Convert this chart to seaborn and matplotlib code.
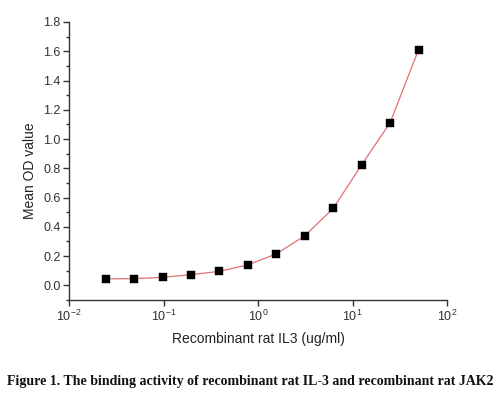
import matplotlib
matplotlib.use("Agg")
import matplotlib.pyplot as plt
import seaborn as sns
import pandas as pd
from matplotlib.ticker import LogLocator, MultipleLocator, NullLocator

concentration = [0.0244, 0.0488, 0.0977, 0.195, 0.39, 0.78, 1.5625, 3.125, 6.25, 12.5, 25, 50]
mean_od = [0.044, 0.046, 0.055, 0.073, 0.096, 0.140, 0.215, 0.339, 0.526, 0.824, 1.112, 1.611]

y_ticks = [0.0, 0.2, 0.4, 0.6, 0.8, 1.0, 1.2, 1.4, 1.6, 1.8]
x_label = "Recombinant rat IL3 (ug/ml)"
y_label = "Mean OD value"
caption = "Figure 1. The binding activity of recombinant rat IL-3 and recombinant rat JAK2"

df = pd.DataFrame({"conc": concentration, "od": mean_od})

sns.set_style("ticks")
plt.rcParams['font.family'] = ['Liberation Sans', 'DejaVu Sans']

fig = plt.figure(figsize=(5.0, 3.97), dpi=100)
ax = fig.add_axes([0.138, 0.2443, 0.756, 0.7003])

sns.lineplot(data=df, x="conc", y="od", ax=ax, color="#e07272", linewidth=0.9)
sns.scatterplot(data=df, x="conc", y="od", ax=ax, marker="s", color="black",
                s=26, edgecolor="black", linewidth=0.3, zorder=5)

ax.set_xscale("log")
ax.set_xlim(1e-2, 1e2)
ax.set_ylim(-0.1, 1.8)
ax.xaxis.set_major_locator(LogLocator(base=10, numticks=10))
ax.xaxis.set_minor_locator(NullLocator())
ax.yaxis.set_minor_locator(MultipleLocator(0.1))
ax.set_yticks(y_ticks)
ax.set_yticklabels([f"{v:.1f}" for v in y_ticks])

for side in ["top", "right"]:
    ax.spines[side].set_visible(False)
for side in ["left", "bottom"]:
    ax.spines[side].set_color("#333333")
    ax.spines[side].set_linewidth(1.0)

ax.tick_params(axis="both", which="major", direction="out", length=4, width=1.0,
               color="#333333", labelsize=9, labelcolor="#333333", pad=2)
ax.tick_params(axis="y", which="minor", direction="out", length=2.5, width=1.0, color="#333333")

ax.set_xlabel(x_label, fontsize=10, color="#222222", labelpad=6)
ax.set_ylabel(y_label, fontsize=10, color="#222222")
ax.yaxis.set_label_coords(-0.085, 0.464)

fig.text(0.5, 0.04, caption, ha="center", va="center", fontsize=10,
         fontweight="bold", family=["Liberation Serif", "DejaVu Serif"], color="#111111")

fig.savefig("out.png", dpi=100, facecolor="white")
